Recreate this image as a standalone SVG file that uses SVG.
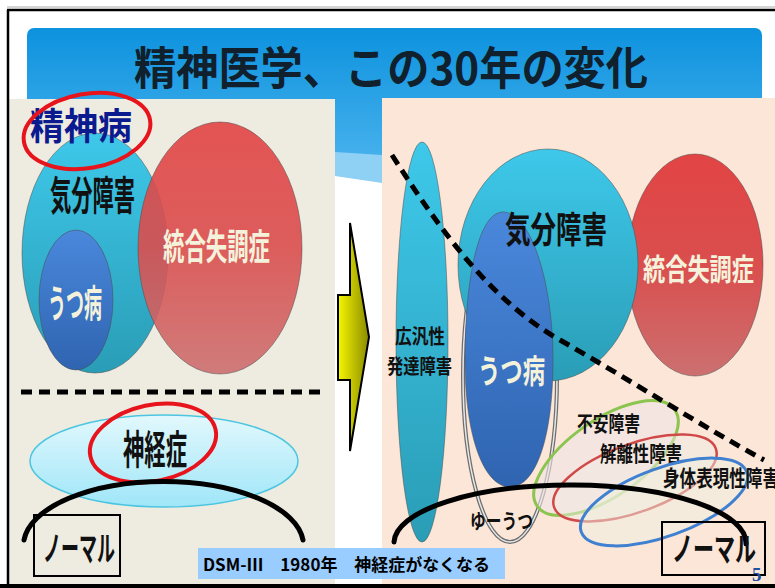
<svg xmlns="http://www.w3.org/2000/svg" width="775" height="588" viewBox="0 0 775 588">
<style>
.jp{font-family:"Noto Sans CJK JP","Noto Sans CJK SC",sans-serif;font-weight:bold}
.blk{fill:#111}
.wht{fill:#f5f2dc}
.ring{fill:none;stroke:#e8141c;stroke-width:4}
.arc{fill:none;stroke:#000;stroke-width:5;stroke-linecap:round}
.dash{fill:none;stroke:#000;stroke-width:5;stroke-dasharray:11 7}
.box{fill:none;stroke:#000;stroke-width:2}
.edge{stroke:#4a4a4a;stroke-width:1;stroke-opacity:0.5}
</style>
<defs>
<linearGradient id="gTitle" x1="0" y1="0" x2="0" y2="1"><stop offset="0" stop-color="#0d92de"/><stop offset="1" stop-color="#44b0ec"/></linearGradient>
<linearGradient id="gCyan" x1="0" y1="0" x2="0" y2="1"><stop offset="0" stop-color="#3ec8ea"/><stop offset="1" stop-color="#2a9db6"/></linearGradient>
<linearGradient id="gBlue" x1="0" y1="0" x2="0" y2="1"><stop offset="0" stop-color="#4a88dc"/><stop offset="1" stop-color="#2f64b0"/></linearGradient>
<linearGradient id="gRed" x1="0" y1="0" x2="0" y2="1"><stop offset="0" stop-color="#e24444"/><stop offset="0.5" stop-color="#da4e4e"/><stop offset="1" stop-color="#cc7070"/></linearGradient>
<linearGradient id="gNeur" x1="0" y1="0" x2="0" y2="1"><stop offset="0" stop-color="#e2f8fd"/><stop offset="1" stop-color="#9fe6f8"/></linearGradient>
<linearGradient id="gArrow" x1="0" y1="0" x2="1" y2="0"><stop offset="0" stop-color="#f6f600"/><stop offset="1" stop-color="#8a8a00"/></linearGradient>
</defs>

<g id="frame">
<rect x="0" y="0" width="775" height="588" fill="#fff"/>
<line x1="7" y1="7" x2="775" y2="7" stroke="#aaa" stroke-width="1"/>
<rect x="27" y="28" width="735" height="127" rx="7" fill="url(#gTitle)"/>
<polygon points="335,152 382,155 382,183 335,176" fill="#8fd0f5"/>
<rect x="9" y="99" width="326" height="486" fill="#eeebe1"/>
<rect x="382" y="98" width="393" height="487" fill="#fbe6d8"/>
<line x1="7" y1="10" x2="775" y2="10" stroke="#000" stroke-width="2.5"/>
<line x1="8" y1="10" x2="8" y2="588" stroke="#000" stroke-width="2.5"/>
<rect x="0" y="584" width="775" height="4" fill="#000"/>
<text class="jp" x="134" y="85" font-size="45" fill="#10202c" textLength="514" lengthAdjust="spacingAndGlyphs">精神医学、この30年の変化</text>
</g>

<g id="left-panel">
<g id="left-mood">
<ellipse cx="95" cy="253" rx="73" ry="120" fill="url(#gCyan)" class="edge"/>
</g>
<g id="left-depression">
<ellipse cx="76" cy="300" rx="37" ry="70" fill="url(#gBlue)" class="edge"/>
</g>
<g id="left-schizo">
<ellipse cx="220" cy="248" rx="82" ry="126" fill="url(#gRed)" fill-opacity="0.9" class="edge"/>
<text class="jp wht" x="163" y="260" font-size="36" textLength="107" lengthAdjust="spacingAndGlyphs">統合失調症</text>
</g>
<text class="jp blk" x="50" y="210" font-size="40" textLength="85" lengthAdjust="spacingAndGlyphs">気分障害</text>
<text class="jp wht" x="48" y="317" font-size="38" textLength="54" lengthAdjust="spacingAndGlyphs">うつ病</text>
<g id="left-psychosis">
<text class="jp" x="30" y="140" font-size="37" fill="#0b1b8f" textLength="102" lengthAdjust="spacingAndGlyphs">精神病</text>
<ellipse cx="87" cy="131" rx="64" ry="37" transform="rotate(-10 87 131)" class="ring"/>
</g>
<line x1="21" y1="392" x2="322" y2="392" class="dash" stroke-width="6"/>
<g id="left-neurosis">
<ellipse cx="164" cy="461" rx="134" ry="46" fill="url(#gNeur)" stroke="#4cc6e0" stroke-width="1.5"/>
<text class="jp blk" x="123" y="464" font-size="40" textLength="64" lengthAdjust="spacingAndGlyphs">神経症</text>
<ellipse cx="153" cy="443" rx="64" ry="38" transform="rotate(-12 153 443)" class="ring"/>
</g>
<g id="left-normal">
<path d="M 24 540 A 140 64 0 0 1 303 540" class="arc"/>
<rect x="34" y="515" width="86" height="61" class="box"/>
<text class="jp blk" x="43" y="561" font-size="34" textLength="72" lengthAdjust="spacingAndGlyphs">ノーマル</text>
</g>
</g>

<g id="connectors">
<polygon points="350,223 369,337 350,451 350,380 338,380 338,295 350,295" fill="url(#gArrow)" stroke="#000" stroke-width="2" stroke-linejoin="miter"/>
</g>

<g id="right-panel">
<g id="right-pdd">
<ellipse cx="422" cy="342" rx="26" ry="200" fill="url(#gCyan)" class="edge"/>
<text class="jp blk" x="395" y="344" font-size="20" textLength="50" lengthAdjust="spacingAndGlyphs">広汎性</text>
<text class="jp blk" x="387" y="374" font-size="20" textLength="65" lengthAdjust="spacingAndGlyphs">発達障害</text>
</g>
<g id="right-yuutsu">
<ellipse cx="510" cy="376" rx="47" ry="166" fill="none" stroke="#6e6e6e" stroke-width="4"/>
<ellipse cx="510" cy="376" rx="47" ry="166" fill="none" stroke="#e8e8e8" stroke-width="1.5"/>
<text class="jp blk" x="470" y="529" font-size="20" textLength="63" lengthAdjust="spacingAndGlyphs">ゆーうつ</text>
</g>
<g id="right-schizo">
<ellipse cx="695" cy="265" rx="68" ry="111" fill="url(#gRed)" class="edge"/>
<text class="jp wht" x="643" y="280" font-size="30" textLength="111" lengthAdjust="spacingAndGlyphs">統合失調症</text>
</g>
<g id="right-mood">
<ellipse cx="548" cy="265" rx="90" ry="116" fill="url(#gCyan)" class="edge"/>
</g>
<g id="right-depression">
<path d="M 503 212 C 478 212 465 280 465 360 C 465 440 485 487 510 487 C 535 487 553 440 553 360 C 553 280 530 212 503 212 Z" fill="url(#gBlue)" class="edge"/>
<text class="jp wht" x="478" y="383" font-size="33" textLength="67" lengthAdjust="spacingAndGlyphs">うつ病</text>
</g>
<text class="jp blk" x="505" y="243" font-size="36" textLength="102" lengthAdjust="spacingAndGlyphs">気分障害</text>
<g id="right-anxiety">
<ellipse cx="606" cy="458" rx="84" ry="38" transform="rotate(-35 606 458)" fill="#f2e4e6" fill-opacity="0.6" stroke="#8cc450" stroke-width="3"/>
<text class="jp blk" x="577" y="431" font-size="21" textLength="63" lengthAdjust="spacingAndGlyphs">不安障害</text>
</g>
<g id="right-dissociative">
<ellipse cx="635" cy="478" rx="86" ry="34" transform="rotate(-20 635 478)" fill="#f0ece2" fill-opacity="0.5" stroke="#d04848" stroke-width="2.5"/>
<text class="jp blk" x="600" y="461" font-size="21" textLength="82" lengthAdjust="spacingAndGlyphs">解離性障害</text>
</g>
<g id="right-somatic">
<ellipse cx="664" cy="502" rx="88" ry="34" transform="rotate(-20 664 502)" fill="#eef0e0" fill-opacity="0.5" stroke="#4080d0" stroke-width="3"/>
<text class="jp blk" x="663" y="486" font-size="22" textLength="116" lengthAdjust="spacingAndGlyphs">身体表現性障害</text>
</g>
<path d="M 392 155 C 440 230 490 300 560 340 S 700 425 764 460" class="dash"/>
<g id="right-normal">
<path d="M 394 542 A 176 58 0 0 1 746 544" class="arc"/>
<rect x="662" y="522" width="103" height="53" class="box"/>
<text class="jp blk" x="672" y="561" font-size="33" textLength="84" lengthAdjust="spacingAndGlyphs">ノーマル</text>
<text x="752" y="581" font-family="Liberation Serif, serif" font-weight="bold" font-size="19" fill="#2050a0">5</text>
</g>
</g>

<g id="dsm-label">
<rect x="198" y="548" width="307" height="31" fill="#99ccff"/>
<text class="jp" x="203" y="571" font-size="17" fill="#000" textLength="287" lengthAdjust="spacingAndGlyphs">DSM-Ⅲ　1980年　神経症がなくなる</text>
</g>
</svg>
